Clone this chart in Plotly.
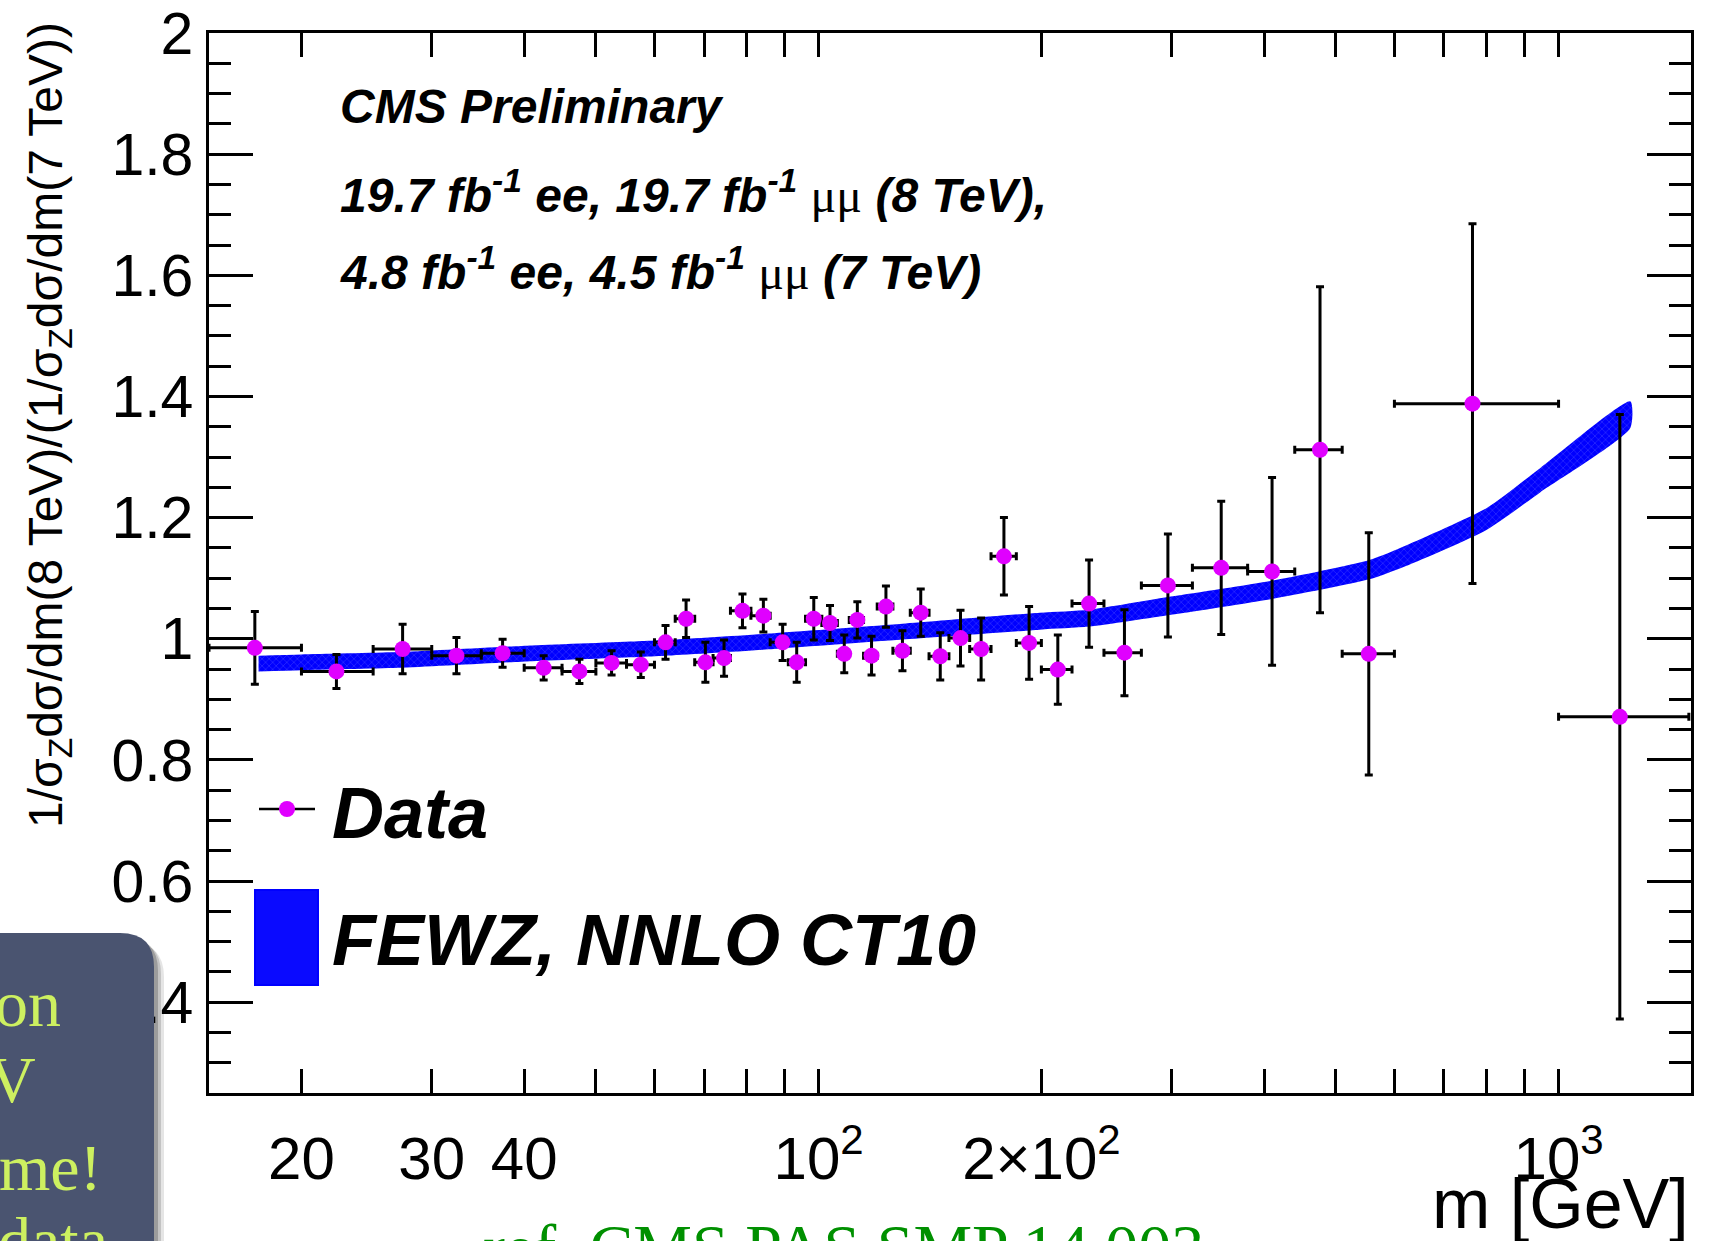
import plotly.graph_objects as go
import math

# ---------------- data ----------------
bin_edges = [15, 20, 25, 30, 35, 40, 45, 50, 55, 60, 64, 68, 72, 76, 81, 86, 91, 96, 101, 106,
             110, 115, 120, 126, 133, 141, 150, 160, 171, 185, 200, 220, 243, 273, 320, 380,
             440, 510, 600, 1000, 1500]
mass = [17.3, 22.3, 27.4, 32.4, 37.4, 42.5, 47.5, 52.5, 57.5, 62.1,
        66.2, 70.3, 74.5, 78.9, 84.2, 89.4, 93.4, 98.5, 103.6, 108.3,
        112.8, 117.9, 123.3, 129.8, 137.4, 146.0, 155.5, 165.8, 178.0, 192.5,
        210.5, 232.0, 259.0, 296.5, 350.0, 410.0, 476.0, 554.0, 765.0, 1210.0]
ratio = [0.985, 0.946, 0.983, 0.972, 0.976, 0.952, 0.946, 0.960, 0.957, 0.994,
         1.033, 0.961, 0.968, 1.046, 1.038, 0.994, 0.961, 1.033, 1.026, 0.975,
         1.031, 0.972, 1.053, 0.980, 1.043, 0.971, 1.001, 0.983, 1.136, 0.993,
         0.949, 1.058, 0.977, 1.088, 1.117, 1.111, 1.312, 0.975, 1.388, 0.871]
ratio_err = [0.060, 0.028, 0.041, 0.030, 0.023, 0.020, 0.020, 0.020, 0.021, 0.028,
             0.031, 0.033, 0.030, 0.028, 0.027, 0.030, 0.033, 0.035, 0.029, 0.031,
             0.030, 0.032, 0.034, 0.033, 0.039, 0.039, 0.046, 0.051, 0.064, 0.060,
             0.057, 0.072, 0.071, 0.085, 0.110, 0.155, 0.269, 0.200, 0.297, 0.499]

band_mass = [17.5, 20, 27, 41, 57, 62, 87, 131, 199, 232, 301, 411, 555, 622, 800, 945, 1250]
band_center = [0.959, 0.961, 0.965, 0.976, 0.983, 0.985, 0.996, 1.012, 1.029, 1.034, 1.055,
               1.081, 1.114, 1.137, 1.198, 1.262, 1.370]
band_halfwidth = [0.013, 0.013, 0.013, 0.013, 0.013, 0.013, 0.013, 0.013, 0.014, 0.014, 0.015,
                  0.015, 0.016, 0.017, 0.018, 0.020, 0.022]

x_tickvals = [20, 30, 40, 50, 60, 70, 80, 90, 100, 200, 300, 400, 500, 600, 700, 800, 900, 1000]
x_ticktext = ["20", "30", "40", "", "", "", "", "", "10<sup>2</sup>", "2\u00d710<sup>2</sup>",
              "", "", "", "", "", "", "", "10<sup>3</sup>"]
y_tickvals = [0.4, 0.6, 0.8, 1.0, 1.2, 1.4, 1.6, 1.8, 2.0]
y_ticktext = ["0.4", "0.6", "0.8", "1", "1.2", "1.4", "1.6", "1.8", "2"]

# ---------------- figure ----------------
W, H = 1722, 1241
L, R, T, B = 209, 31, 33, 148
PW, PH = W - L - R, H - T - B


def px(xp):
    return (xp - L) / PW


def py(yp):
    return (H - B - yp) / PH


fig = go.Figure()

upper = [c + h for c, h in zip(band_center, band_halfwidth)]
lower = [c - h for c, h in zip(band_center, band_halfwidth)]
fig.add_trace(go.Scatter(
    x=band_mass + band_mass[::-1],
    y=upper + lower[::-1],
    mode="lines", fill="toself", fillcolor="#0a0aff",
    fillpattern=dict(shape="x", bgcolor="#0000ff", fgcolor="#5c5cff", size=5, solidity=0.25),
    line=dict(width=0, color="#0000ff", shape="spline", smoothing=0.6),
    hoverinfo="skip", showlegend=False))

x_plus = [hi - m for hi, m in zip(bin_edges[1:], mass)]
x_minus = [m - lo for lo, m in zip(bin_edges[:-1], mass)]
fig.add_trace(go.Scatter(
    x=mass, y=ratio, mode="markers",
    marker=dict(color="#e000ff", size=16, line=dict(width=0)),
    error_y=dict(type="data", array=ratio_err, color="black", thickness=3, width=4),
    error_x=dict(type="data", array=x_plus, arrayminus=x_minus, color="black", thickness=3, width=4),
    showlegend=False))

tickfont_y = dict(family="Liberation Sans, Arial, sans-serif", size=59, color="black")
tickfont_x = dict(family="Liberation Sans, Arial, sans-serif", size=60, color="black")
fig.update_xaxes(type="log", range=[math.log10(15), math.log10(1510)],
                 tickvals=x_tickvals, ticktext=x_ticktext, ticks="inside", ticklen=24,
                 tickwidth=2.5, tickcolor="black", showline=True, linecolor="black", linewidth=2.5,
                 mirror="allticks", showgrid=False, zeroline=False, tickfont=tickfont_x,
                 ticklabelstandoff=11)
fig.update_yaxes(range=[0.25, 2.0], tickvals=y_tickvals, ticktext=y_ticktext, ticks="inside",
                 ticklen=44, tickwidth=2.5, tickcolor="black", showline=True, linecolor="black",
                 linewidth=2.5, mirror="allticks", showgrid=False, zeroline=False, tickfont=tickfont_y,
                 ticklabelstandoff=1,
                 minor=dict(tickmode="linear", tick0=0.25, dtick=0.05, ticks="inside", ticklen=22,
                            tickwidth=2.5, tickcolor="black", showgrid=False))

shapes = []
annotations = []
bi = "Liberation Sans, Arial, sans-serif"

# Title texts
mu = "<span style='font-family:Liberation Serif;font-weight:normal;font-style:normal'>\u03bc\u03bc</span>"
cms_lines = [
    ("CMS Preliminary", 107),
    ("19.7 fb<sup>-1</sup> ee, 19.7 fb<sup>-1</sup> " + mu + " (8 TeV),", 192),
    ("4.8 fb<sup>-1</sup> ee, 4.5 fb<sup>-1</sup> " + mu + " (7 TeV)", 269),
]
for txt, yc in cms_lines:
    annotations.append(dict(text="<b><i>" + txt + "</i></b>", xref="paper", yref="paper",
                            x=px(338), y=py(yc), xanchor="left", yanchor="middle", showarrow=False,
                            font=dict(family=bi, size=48, color="black")))

# Legend
shapes.append(dict(type="line", xref="paper", yref="paper", x0=px(259), x1=px(315),
                   y0=py(809), y1=py(809), line=dict(color="black", width=2.5), layer="above"))
shapes.append(dict(type="circle", xref="paper", yref="paper", xsizemode="pixel", ysizemode="pixel",
                   xanchor=px(287), yanchor=py(809), x0=-8, x1=8, y0=-8, y1=8,
                   fillcolor="#e000ff", line=dict(width=0), layer="above"))
annotations.append(dict(text="<b><i>Data</i></b>", xref="paper", yref="paper", x=px(330), y=py(813),
                        xanchor="left", yanchor="middle", showarrow=False,
                        font=dict(family=bi, size=72, color="black")))
shapes.append(dict(type="rect", xref="paper", yref="paper", x0=px(255), x1=px(318),
                   y0=py(985), y1=py(890), fillcolor="#0a0aff", line=dict(color="#0000ff", width=2),
                   layer="above"))
annotations.append(dict(text="<b><i>FEWZ, NNLO CT10</i></b>", xref="paper", yref="paper",
                        x=px(330), y=py(940), xanchor="left", yanchor="middle", showarrow=False,
                        font=dict(family=bi, size=72, color="black")))

# Axis titles
annotations.append(dict(text="1/\u03c3<sub>Z</sub>d\u03c3/dm(8 TeV)/(1/\u03c3<sub>Z</sub>d\u03c3/dm(7 TeV))",
                        xref="paper", yref="paper", x=px(49), y=py(425), textangle=-90,
                        xanchor="center", yanchor="middle", showarrow=False,
                        font=dict(family=bi, size=48, color="black")))
annotations.append(dict(text="m [GeV]", xref="paper", yref="paper", x=1.0, y=py(1204),
                        xanchor="right", yanchor="middle", showarrow=False,
                        font=dict(family=bi, size=70, color="black")))

# Slide overlay box (bottom-left)
x0, x1 = px(-20), px(154)
y0, y1 = py(1260), py(933)
rx, ry = 34 / PW, 34 / PH
for off, alpha in [(10, 0.10), (7, 0.15), (4, 0.2)]:
    ox, oy = off / PW, off / PH
    shapes.append(dict(type="path", xref="paper", yref="paper", layer="above",
                       path=f"M {x0} {y0} L {x0} {y1 - oy} L {x1 + ox - rx} {y1 - oy} "
                            f"Q {x1 + ox} {y1 - oy} {x1 + ox} {y1 - oy - ry} L {x1 + ox} {y0} Z",
                       fillcolor=f"rgba(0,0,0,{alpha})", line=dict(width=0)))
shapes.append(dict(type="path", xref="paper", yref="paper", layer="above",
                   path=f"M {x0} {y0} L {x0} {y1} L {x1 - rx} {y1} Q {x1} {y1} {x1} {y1 - ry} L {x1} {y0} Z",
                   fillcolor="#4a5470", line=dict(width=0)))
serif = "Liberation Serif, Times New Roman, serif"
for txt, xr, yc in [("on", 63, 1003), ("V", 38, 1079), ("me!", 104, 1167), ("data", 110, 1240)]:
    annotations.append(dict(text=txt, xref="paper", yref="paper", x=px(xr), y=py(yc),
                            xanchor="right", yanchor="middle", showarrow=False,
                            font=dict(family=serif, size=66, color="#cdf060")))

# Reference text (cut at bottom)
annotations.append(dict(text="ref. CMS PAS SMP 14 003", xref="paper", yref="paper", x=px(481),
                        y=py(1247), xanchor="left", yanchor="middle", showarrow=False,
                        font=dict(family=serif, size=66, color="#009000")))

fig.update_layout(width=W, height=H, margin=dict(l=L, r=R, t=T, b=B, autoexpand=False),
                  paper_bgcolor="white", plot_bgcolor="white", shapes=shapes,
                  annotations=annotations, showlegend=False)

fig.write_html("out.html")
